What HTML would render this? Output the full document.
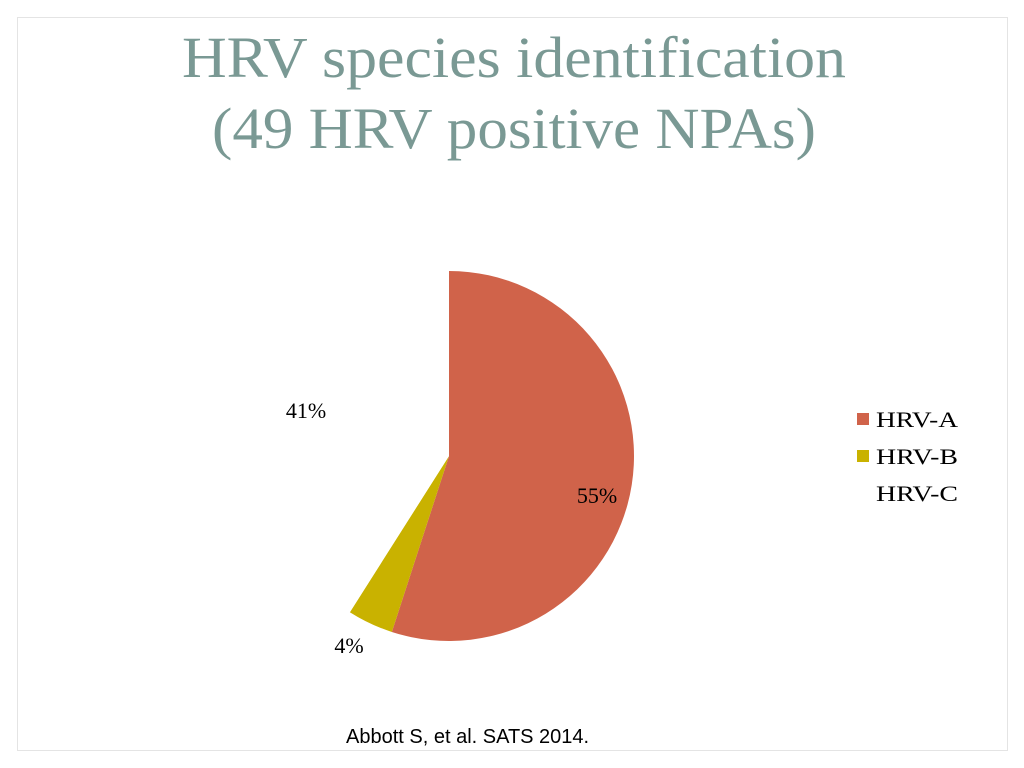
<!DOCTYPE html>
<html><head><meta charset="utf-8"><style>
body{margin:0;width:1024px;height:768px;background:#fff;overflow:hidden;font-family:"Liberation Serif",serif}
.frame{position:absolute;left:17px;top:17px;width:989px;height:732px;border:1px solid #e4e4e4}
</style></head><body>
<div class="frame"></div>
<svg width="1024" height="768" style="position:absolute;left:0;top:0" id="chart">
<text x="182" y="77" textLength="664" lengthAdjust="spacingAndGlyphs" font-family="Liberation Serif, serif" font-size="58" fill="#7a9994">HRV species identification</text>
<text x="212" y="148" textLength="604" lengthAdjust="spacingAndGlyphs" font-family="Liberation Serif, serif" font-size="58" fill="#7a9994">(49 HRV positive NPAs)</text>
<text x="346" y="743" font-family="Liberation Sans, sans-serif" font-size="20" fill="#000">Abbott S, et al. SATS 2014.</text>
</svg>
<script>
const categories=["HRV-A","HRV-B","HRV-C"];
const values=[55,4,41];
const labels=["55%","4%","41%"];
const colors=["#d0634a","#c9b200","#ffffff"];
const svg=document.getElementById('chart');
const NS="http://www.w3.org/2000/svg";
const cx=449,cy=456,r=185;
const total=values.reduce((a,b)=>a+b,0);
function pt(a,rr){return [cx+rr*Math.sin(a),cy-rr*Math.cos(a)];}
const labelPos=[[597,503],[349,653],[306,418]];
let start=0;
values.forEach((v,i)=>{
  const end=start+v/total*2*Math.PI;
  const [x1,y1]=pt(start,r),[x2,y2]=pt(end,r);
  const p=document.createElementNS(NS,'path');
  p.setAttribute('d',`M${cx},${cy} L${x1},${y1} A${r},${r} 0 ${end-start>Math.PI?1:0} 1 ${x2},${y2} Z`);
  p.setAttribute('fill',colors[i]);
  
  
  svg.appendChild(p);
  const t=document.createElementNS(NS,'text');
  t.setAttribute('x',labelPos[i][0]);t.setAttribute('y',labelPos[i][1]);
  t.setAttribute('text-anchor','middle');t.setAttribute('font-size','22');
  t.setAttribute('font-family','Liberation Serif, serif');
  t.textContent=labels[i];
  
  
  svg.appendChild(t);
  start=end;
});
categories.forEach((c,i)=>{
  const y=419+i*37;
  const g=document.createElementNS(NS,'g');
  
  
  const s=document.createElementNS(NS,'rect');
  s.setAttribute('x',857);s.setAttribute('y',y-6);s.setAttribute('width',12);s.setAttribute('height',12);
  s.setAttribute('fill',colors[i]);
  g.appendChild(s);
  const t=document.createElementNS(NS,'text');
  t.setAttribute('x',876);t.setAttribute('y',y+8);t.setAttribute('font-size','22');
  t.setAttribute('font-family','Liberation Serif, serif');
  t.setAttribute('textLength','82');
  t.setAttribute('lengthAdjust','spacingAndGlyphs');
  t.textContent=c;
  g.appendChild(t);
  svg.appendChild(g);
});
</script>
</body></html>
